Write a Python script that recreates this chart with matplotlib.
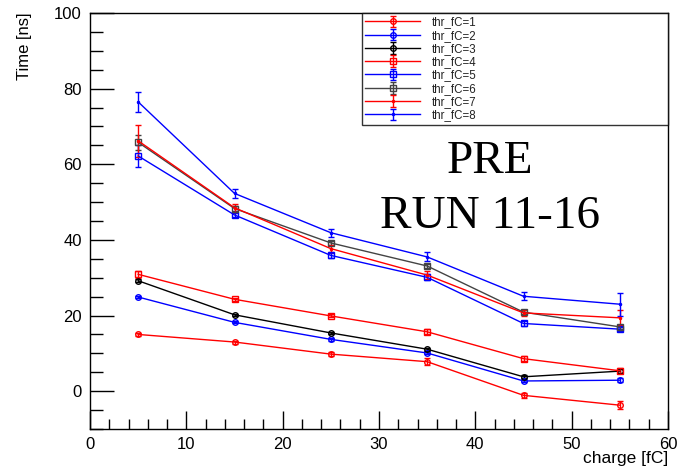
import matplotlib
matplotlib.use("Agg")
import matplotlib.pyplot as plt
from matplotlib.ticker import MultipleLocator

charge = [5, 15, 25, 35, 45, 55]
labels = ["thr_fC=1", "thr_fC=2", "thr_fC=3", "thr_fC=4",
          "thr_fC=5", "thr_fC=6", "thr_fC=7", "thr_fC=8"]
times = [
    [15.0, 13.0, 9.8, 7.8, -1.1, -3.7],
    [24.9, 18.2, 13.7, 10.1, 2.7, 2.9],
    [29.2, 20.2, 15.4, 11.1, 3.8, 5.3],
    [30.9, 24.3, 19.9, 15.7, 8.6, 5.4],
    [62.2, 46.6, 35.9, 30.1, 17.9, 16.4],
    [65.8, 48.3, 39.2, 33.1, 20.9, 17.0],
    [66.2, 48.5, 37.7, 30.7, 20.7, 19.4],
    [76.5, 52.3, 41.9, 35.5, 25.1, 23.0],
]
errors = [
    [0.5, 0.4, 0.6, 1.0, 0.7, 1.1],
    [0.3, 0.3, 0.3, 0.4, 0.4, 0.5],
    [0.4, 0.3, 0.3, 0.4, 0.4, 0.5],
    [1.0, 0.4, 0.4, 0.7, 0.6, 0.7],
    [3.0, 0.6, 0.6, 0.8, 0.6, 0.6],
    [2.0, 0.6, 0.6, 0.6, 0.6, 0.6],
    [4.3, 1.0, 1.0, 1.0, 0.8, 2.0],
    [2.7, 1.2, 1.0, 1.2, 1.0, 3.0],
]
colors = ["#ff0000", "#0000ff", "#000000", "#ff0000",
          "#0000ff", "#444444", "#ff0000", "#0000ff"]
markers = ["o", "o", "o", "s", "s", "s", ".", "."]

plt.rcParams["font.family"] = ["Liberation Sans", "DejaVu Sans"]
fig = plt.figure(figsize=(6.81, 4.72), dpi=100)
ax = fig.add_axes([90/681, (472-429)/472, (668-90)/681, (429-13)/472])

for t, e, c, m, lab in zip(times, errors, colors, markers, labels):
    ms = 4 if m != "." else 3
    ax.errorbar(charge, t, yerr=e, color=c, marker=m, markersize=ms,
                markerfacecolor="none" if m != "." else c,
                markeredgewidth=1.0, linewidth=1.0, elinewidth=1.0,
                capsize=2.5, label=lab)

ax.set_xlim(0, 60)
ax.set_ylim(-10, 100)
ax.xaxis.set_major_locator(MultipleLocator(10))
ax.xaxis.set_minor_locator(MultipleLocator(2))
ax.yaxis.set_major_locator(MultipleLocator(20))
ax.yaxis.set_minor_locator(MultipleLocator(5))
ax.tick_params(which="both", direction="in", top=False, right=False,
               labelsize=12, width=1)
ax.tick_params(which="major", axis="x", length=13, pad=6)
ax.tick_params(which="minor", axis="x", length=7)
ax.tick_params(which="major", axis="y", length=17, pad=6)
ax.tick_params(which="minor", axis="y", length=9)
for s in ax.spines.values():
    s.set_linewidth(1.0)

ax.set_ylabel("Time [ns]", fontsize=12, loc="top")
ax.set_xlabel("charge [fC]", fontsize=12.5, loc="right")
ax.yaxis.set_label_coords(-0.101, 1.0)
ax.xaxis.set_label_coords(1.0, -0.052)

leg = ax.legend(loc="upper left", bbox_to_anchor=(0.4706, 0.7356, 0.5294, 0.2644),
                mode="expand", borderaxespad=0, fontsize=8.3, frameon=True,
                fancybox=False, edgecolor="black", handlelength=4.7,
                handletextpad=1.1, labelspacing=0.11, borderpad=0.3)
leg.get_frame().set_linewidth(1.0)
for txt in leg.get_texts():
    txt.set_color("#222222")

ax.text(0.692, 0.643, "PRE", transform=ax.transAxes, ha="center", va="center",
        fontsize=34, family=["Liberation Serif", "DejaVu Serif"])
ax.text(0.692, 0.510, "RUN 11-16", transform=ax.transAxes, ha="center", va="center",
        fontsize=34, family=["Liberation Serif", "DejaVu Serif"])

fig.savefig("out.png", dpi=100)
